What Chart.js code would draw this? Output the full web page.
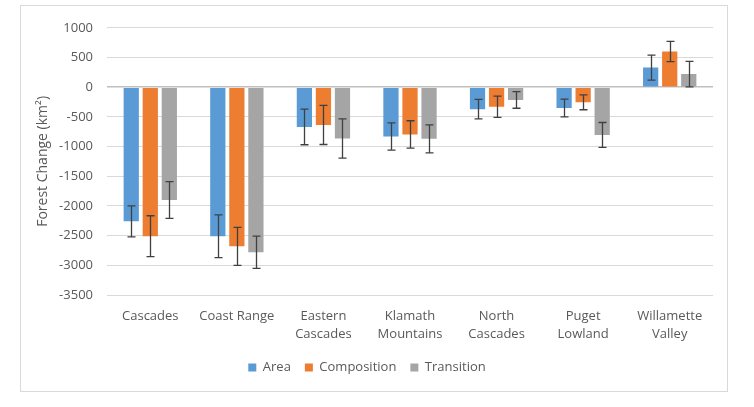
<!DOCTYPE html>
<html>
<head>
<meta charset="utf-8">
<script src="https://cdn.jsdelivr.net/npm/chart.js@4.4.1/dist/chart.umd.min.js"></script>
<style>
  html, body { margin: 0; padding: 0; background: #fff; }
  #frame {
    position: absolute; left: 20px; top: 5px;
    width: 706px; height: 385px;
    border: 1px solid #d9d9d9;
  }
  #chart { display: block; }
</style>
</head>
<body>
<div id="frame"><canvas id="chart" width="706" height="385"></canvas></div>
<script>
"use strict";

const regions = [
  "Cascades",
  "Coast Range",
  ["Eastern", "Cascades"],
  ["Klamath", "Mountains"],
  ["North", "Cascades"],
  ["Puget", "Lowland"],
  ["Willamette", "Valley"]
];

const areaValues = [-2260, -2510, -670, -830, -370, -350, 330];
const areaErrors = [260, 360, 300, 230, 165, 150, 210];

const compositionValues = [-2510, -2680, -635, -795, -330, -255, 600];
const compositionErrors = [345, 320, 330, 230, 180, 125, 170];

const transitionValues = [-1900, -2780, -865, -870, -215, -805, 220];
const transitionErrors = [310, 272, 330, 235, 140, 210, 215];

const yTicks = [1000, 500, 0, -500, -1000, -1500, -2000, -2500, -3000, -3500];

const TEXT_COLOR = "#595959";
const FONT = "'Open Sans', sans-serif";

const errorBarPlugin = {
  id: "errorBars",
  afterDatasetsDraw(chart) {
    const { ctx } = chart;
    const yScale = chart.scales.y;
    ctx.save();
    ctx.strokeStyle = "#404040";
    ctx.lineWidth = 1.3;
    chart.data.datasets.forEach((ds, i) => {
      const meta = chart.getDatasetMeta(i);
      meta.data.forEach((bar, j) => {
        const v = ds.data[j];
        const e = ds.errors[j];
        const top = yScale.getPixelForValue(v + e);
        const bottom = yScale.getPixelForValue(v - e);
        const x = Math.round(bar.x) + 0.5;
        ctx.beginPath();
        ctx.moveTo(x, top);
        ctx.lineTo(x, bottom);
        ctx.moveTo(x - 4, top);
        ctx.lineTo(x + 4, top);
        ctx.moveTo(x - 4, bottom);
        ctx.lineTo(x + 4, bottom);
        ctx.stroke();
      });
    });
    ctx.restore();
  }
};

function makeDataset(label, data, errors, color) {
  return {
    label,
    data,
    errors,
    backgroundColor: color,
    borderWidth: 0,
    categoryPercentage: 0.66,
    barPercentage: 0.8
  };
}

new Chart(document.getElementById("chart"), {
  type: "bar",
  data: {
    labels: regions,
    datasets: [
      makeDataset("Area", areaValues, areaErrors, "#5b9bd5"),
      makeDataset("Composition", compositionValues, compositionErrors, "#ed7d31"),
      makeDataset("Transition", transitionValues, transitionErrors, "#a5a5a5")
    ]
  },
  options: {
    responsive: false,
    animation: false,
    layout: { padding: { top: 21, right: 14, left: 0, bottom: 7 } },
    scales: {
      x: {
        grid: { display: false, drawTicks: false },
        border: { display: false },
        ticks: {
          color: TEXT_COLOR,
          font: { family: FONT, size: 13, lineHeight: 1.4 },
          padding: 12,
          maxRotation: 0,
          autoSkip: false
        },
        afterFit(scale) { scale.height = 52; }
      },
      y: {
        min: -3500,
        max: 1000,
        afterBuildTicks(scale) { scale.ticks = yTicks.map((v) => ({ value: v })); },
        grid: {
          color: (c) => (c.tick && c.tick.value === 0 ? "#bfbfbf" : "#d9d9d9"),
          lineWidth: (c) => (c.tick && c.tick.value === 0 ? 1.5 : 1),
          drawTicks: false
        },
        border: { display: false },
        ticks: {
          color: TEXT_COLOR,
          font: { family: FONT, size: 13 },
          padding: 14,
          callback: (v) => String(v)
        },
        title: {
          display: true,
          text: "Forest Change (km²)",
          color: TEXT_COLOR,
          font: { family: FONT, size: 14 },
          padding: { top: 14, bottom: 0 }
        },
        afterFit(scale) { scale.width = 86; }
      }
    },
    plugins: {
      legend: {
        position: "bottom",
        labels: {
          color: TEXT_COLOR,
          font: { family: FONT, size: 13 },
          boxWidth: 8,
          boxHeight: 8,
          padding: 14
        }
      },
      tooltip: { enabled: false }
    }
  },
  plugins: [errorBarPlugin]
});
</script>
</body>
</html>
